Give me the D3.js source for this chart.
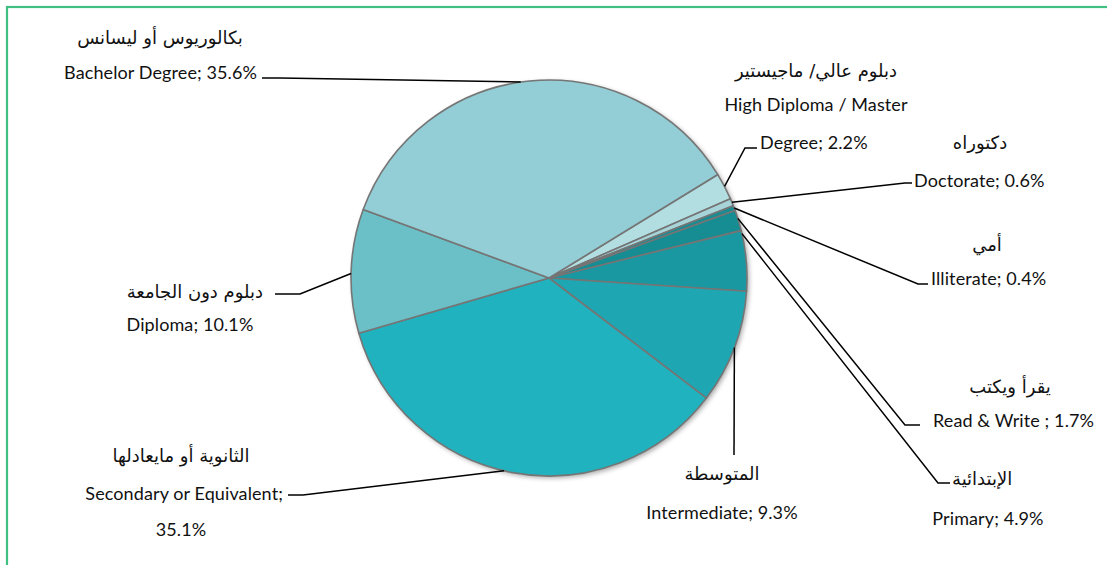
<!DOCTYPE html>
<html><head><meta charset="utf-8">
<script src="https://cdn.jsdelivr.net/npm/d3@7"></script>
<style>body{margin:0;background:#fff}svg{display:block}</style>
</head><body>
<svg id="chart" width="1107" height="565"></svg>
<script>
// ---- data ----
const categories = ["High Diploma / Master Degree","Doctorate","Illiterate","Read & Write","Primary","Intermediate","Secondary or Equivalent","Diploma","Bachelor Degree"];
const arabicNames = ["دبلوم عالي/ ماجيستير","دكتوراه","أمي","يقرأ ويكتب","الإبتدائية","المتوسطة","الثانوية أو مايعادلها","دبلوم دون الجامعة","بكالوريوس أو ليسانس"];
const values = [2.2, 0.6, 0.4, 1.7, 4.9, 9.3, 35.1, 10.1, 35.6];
const valueLabels = ["2.2%","0.6%","0.4%","1.7%","4.9%","9.3%","35.1%","10.1%","35.6%"];

// ---- styling / layout ----
const colors = ["#b2dde1","#a6d4d9","#1b8b92","#168c93","#1a98a1","#1ea7b2","#20b3bf","#6bbfc7","#93cdd5"];
const W = 1107, H = 565, cx = 549, cy = 278, R = 198;
const startDeg = 58.5;
// leader: anchor fraction within slice, elbow point, end point
const leaders = [
  {f:0.5, ex:745, ey:148, tx:757, ty:148},
  {f:0.5, ex:905, ey:183, tx:912, ty:183},
  {f:0.5, ex:918, ey:284, tx:928, ty:284},
  {f:0.4, ex:905, ey:425, tx:920, ty:425},
  {f:0.05, ex:938, ey:483, tx:950, ty:483},
  {f:0.5, ex:734, ey:455, tx:734, ty:455},
  {f:0.52, ex:303, ey:495, tx:288, ty:495},
  {f:0.48, ex:300, ey:294, tx:275, ty:294},
  {f:0.48, ex:280, ey:78, tx:262, ty:78}
];
// text lines: [text, x, y, anchor, kind]
function labelLines(i){
  const c = categories[i], a = arabicNames[i], v = valueLabels[i];
  switch(i){
    case 0: return [[a,816,77,"middle","ar"],["High Diploma / Master",816,111,"middle","en"],["Degree; "+v,760,149,"start","en"]];
    case 1: return [[a,980,149,"middle","ar"],[c+"; "+v,914,187,"start","en"]];
    case 2: return [[a,987,251,"middle","ar"],[c+"; "+v,931,285,"start","en"]];
    case 3: return [[a,1010,393,"middle","ar"],[c+" ; "+v,933,427,"start","en"]];
    case 4: return [[a,952,485,"start","ar"],[c+"; "+v,988,525,"middle","en"]];
    case 5: return [[a,722,480,"middle","ar"],[c+"; "+v,722,519,"middle","en"]];
    case 6: return [[a,181,462,"middle","ar"],[c+";",283,500,"end","en"],[v,181,536,"middle","en"]];
    case 7: return [[a,263,298,"end","ar"],[c+"; "+v,190,331,"middle","en"]];
    case 8: return [[a,160,44,"middle","ar"],[c+"; "+v,257,79,"end","en"]];
  }
}

const svg = d3.select("#chart");
svg.append("rect").attr("x",7).attr("y",7).attr("width",W).attr("height",H)
  .attr("fill","#fff").attr("stroke","#3fbf80").attr("stroke-width",2.2);

const defs = svg.append("defs");
const flt = defs.append("filter").attr("id","sh").attr("x","-20%").attr("y","-20%").attr("width","140%").attr("height","140%");
flt.append("feGaussianBlur").attr("in","SourceAlpha").attr("stdDeviation",2.5);
flt.append("feOffset").attr("dx",2).attr("dy",2).attr("result","b");
flt.append("feComponentTransfer").append("feFuncA").attr("type","linear").attr("slope",0.35);
const m = flt.append("feMerge"); m.append("feMergeNode"); m.append("feMergeNode").attr("in","SourceGraphic");

const pie = d3.pie().sort(null).value(d=>d)
  .startAngle(startDeg*Math.PI/180).endAngle(startDeg*Math.PI/180 + 2*Math.PI);
const arcs = pie(values);
const arc = d3.arc().innerRadius(0).outerRadius(R);

const g = svg.append("g").attr("transform",`translate(${cx},${cy})`);
g.append("circle").attr("r",R).attr("fill","#fff").attr("filter","url(#sh)");
g.selectAll("path").data(arcs).join("path")
  .attr("d",arc).attr("fill",(d,i)=>colors[i])
  .attr("stroke","#757575").attr("stroke-width",1.6).attr("stroke-linejoin","round");

// leader lines
const lg = svg.append("g");
arcs.forEach((d,i)=>{
  const L = leaders[i];
  const a = d.startAngle + (d.endAngle-d.startAngle)*L.f;
  const px = cx + R*Math.sin(a), py = cy - R*Math.cos(a);
  lg.append("polyline").attr("points",`${px},${py} ${L.ex},${L.ey} ${L.tx},${L.ty}`)
    .attr("fill","none").attr("stroke","#000").attr("stroke-width",1.5);
});

// labels
const tg = svg.append("g");
arcs.forEach((d,i)=>{
  labelLines(i).forEach(([t,x,y,anc,kind])=>{
    tg.append("text").attr("x",x).attr("y",y).attr("text-anchor",anc)
      .attr("font-family", kind==="ar" ? "'DejaVu Sans', sans-serif" : "Lato, 'Open Sans', sans-serif")
      .attr("font-size", kind==="ar" ? 18 : 18)
      .attr("letter-spacing", kind==="ar" ? 0 : 0.1)
      .attr("fill","#111").text(t);
  });
});
</script>
</body></html>
